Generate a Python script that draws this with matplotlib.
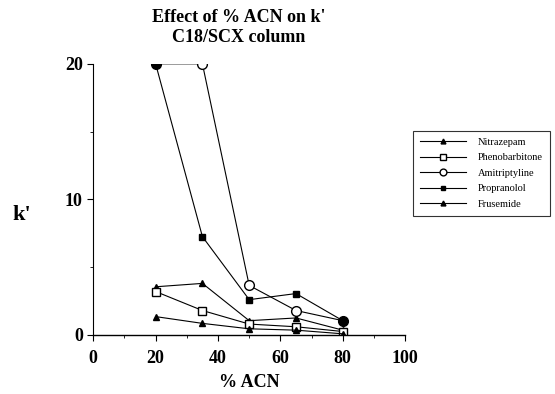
from matplotlib import pyplot as plt
from matplotlib.ticker import MultipleLocator

acn = [20, 35, 50, 65, 80]
nitrazepam = [3.55, 3.8, 1.05, 1.25, 0.35]
phenobarbitone = [3.2, 1.8, 0.8, 0.6, 0.25]
amitriptyline = [20, 20, 3.65, 1.8, 1.05]
propranolol = [20, 7.25, 2.6, 3.05, 1.05]
frusemide = [1.35, 0.85, 0.45, 0.35, 0.08]

plt.rcParams['font.family'] = ['Liberation Serif', 'DejaVu Serif']

fig = plt.figure(figsize=(5.55, 3.94), dpi=100)
ax = fig.add_axes([0.168, 0.150, 0.562, 0.688])

lw = 0.8
ax.plot(acn, nitrazepam, color='black', lw=lw, marker='^', ms=5,
        mfc='black', label='Nitrazepam')
ax.plot(acn, phenobarbitone, color='black', lw=lw, marker='s', ms=6,
        mfc='white', label='Phenobarbitone')
ax.plot(acn, amitriptyline, color='black', lw=lw, marker='o', ms=7,
        mfc='white', label='Amitriptyline')
ax.plot(acn, propranolol, color='black', lw=lw, marker='s', ms=4,
        mfc='black', label='Propranolol')
ax.plot(acn, frusemide, color='black', lw=lw, marker='^', ms=5,
        mfc='black', label='Frusemide')
# end points drawn as filled circles
ax.plot([acn[0], acn[-1]], [propranolol[0], propranolol[-1]], ls='none',
        marker='o', ms=6, color='black')

ax.set_xlim(0, 100)
ax.set_ylim(0, 20)
ax.xaxis.set_major_locator(MultipleLocator(20))
ax.xaxis.set_minor_locator(MultipleLocator(10))
ax.yaxis.set_major_locator(MultipleLocator(10))
ax.yaxis.set_minor_locator(MultipleLocator(5))
for s in ['top', 'right']:
    ax.spines[s].set_visible(False)
ax.spines['left'].set_linewidth(0.8)
ax.spines['bottom'].set_linewidth(1.0)
ax.tick_params(which='major', length=4, width=0.8, direction='out')
ax.tick_params(which='minor', length=2.5, width=0.6, direction='out')
for lab in ax.get_xticklabels() + ax.get_yticklabels():
    lab.set_fontweight('bold')
    lab.set_fontsize(13)
ax.tick_params(axis='x', pad=7)

ax.set_xlabel('% ACN', fontsize=13, fontweight='bold', labelpad=5)
fig.text(0.04, 0.455, "k'", fontsize=16, fontweight='bold', ha='center', va='center')
fig.text(0.43, 0.955, "Effect of % ACN on k'", fontsize=13, fontweight='bold',
         ha='center', va='center')
fig.text(0.43, 0.905, "C18/SCX column", fontsize=13, fontweight='bold',
         ha='center', va='center')

leg = ax.legend(loc='upper left', bbox_to_anchor=(0.744, 0.668),
                bbox_transform=fig.transFigure, borderaxespad=0, frameon=True,
                fontsize=7.5, handlelength=4.4, handletextpad=1.2,
                borderpad=0.65, labelspacing=0.6, fancybox=False,
                edgecolor='black', markerscale=0.7)
leg.get_frame().set_linewidth(0.8)

fig.savefig('out.png', dpi=100)
